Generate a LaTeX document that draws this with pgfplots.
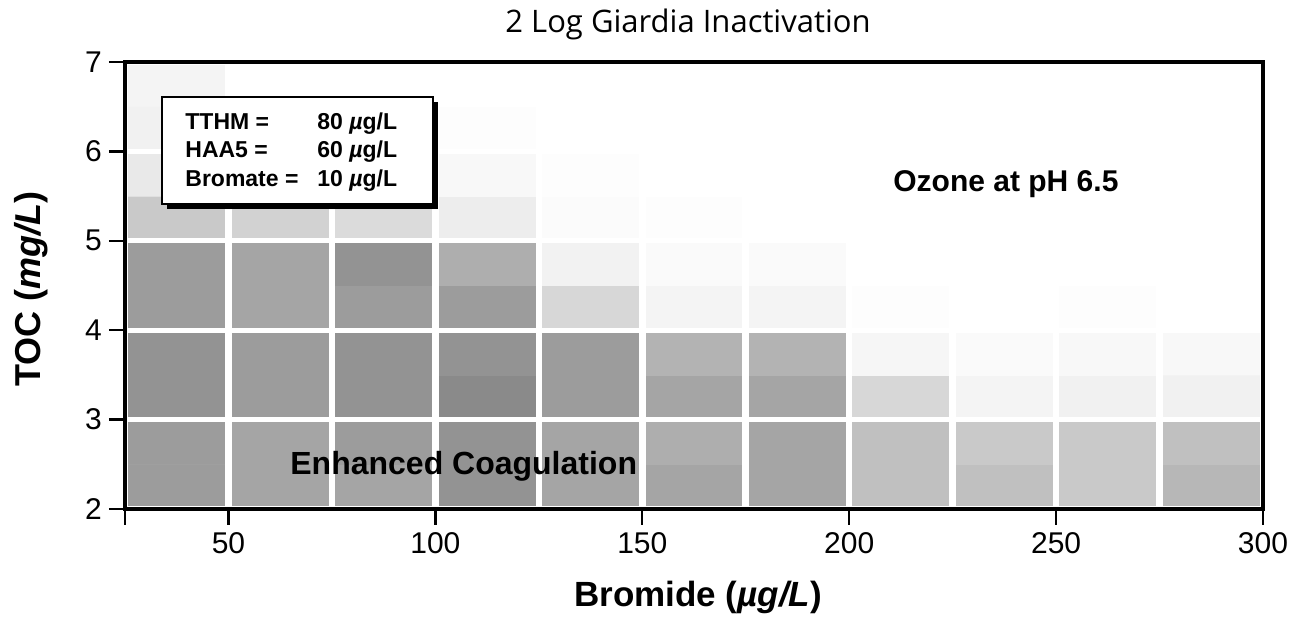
\documentclass[border=0pt]{standalone}
\usepackage{pgfplots}
\pgfplotsset{compat=1.18}
\usepackage{fontspec}
\setmainfont{Liberation Sans}
\newfontfamily\titlefont{Open Sans}
\begin{document}
\begin{tikzpicture}
\useasboundingbox (0,0) rectangle (648.5pt,313.5pt);
\begin{axis}[
  at={(62.5pt,59pt)}, anchor=south west,
  width=569pt, height=223.5pt, scale only axis,
  xmin=25, xmax=300, ymin=2, ymax=7,
  xtick={25,50,100,150,200,250,300},
  xticklabels={,50,100,150,200,250,300},
  minor xtick={75,125,175,225,275},
  ytick={2,3,4,5,6,7},
  xtick pos=bottom, ytick pos=left,
  tick align=outside,
  major tick length=8pt, minor tick length=0pt,
  tick style={black, line width=1.2pt},
  axis line style={line width=2.2pt},
  grid=both,
  major x grid style={white, line width=3.3pt},
  minor x grid style={white, line width=3.3pt},
  major y grid style={white, line width=2.5pt},
  axis on top,
  ticklabel style={font=\fontsize{15}{18}\selectfont},
  /pgf/number format/assume math mode=true,
  colormap={scan}{color=(white) color=(black!70)},
  point meta min=0, point meta max=1,
]
\addplot[matrix plot*, mesh/cols=11, point meta=explicit, shader=flat corner] table[meta=c] {
x y c
37.5 2.25 0.55
62.5 2.25 0.50
87.5 2.25 0.50
112.5 2.25 0.60
137.5 2.25 0.50
162.5 2.25 0.50
187.5 2.25 0.50
212.5 2.25 0.35
237.5 2.25 0.35
262.5 2.25 0.30
287.5 2.25 0.40
37.5 2.75 0.55
62.5 2.75 0.50
87.5 2.75 0.55
112.5 2.75 0.60
137.5 2.75 0.50
162.5 2.75 0.45
187.5 2.75 0.50
212.5 2.75 0.35
237.5 2.75 0.30
262.5 2.75 0.30
287.5 2.75 0.35
37.5 3.25 0.60
62.5 3.25 0.55
87.5 3.25 0.60
112.5 3.25 0.65
137.5 3.25 0.55
162.5 3.25 0.50
187.5 3.25 0.50
212.5 3.25 0.22
237.5 3.25 0.06
262.5 3.25 0.08
287.5 3.25 0.08
37.5 3.75 0.60
62.5 3.75 0.55
87.5 3.75 0.60
112.5 3.75 0.60
137.5 3.75 0.55
162.5 3.75 0.42
187.5 3.75 0.42
212.5 3.75 0.05
237.5 3.75 0.03
262.5 3.75 0.04
287.5 3.75 0.04
37.5 4.25 0.55
62.5 4.25 0.50
87.5 4.25 0.55
112.5 4.25 0.55
137.5 4.25 0.22
162.5 4.25 0.06
187.5 4.25 0.06
212.5 4.25 0.01
237.5 4.25 0.00
262.5 4.25 0.01
287.5 4.25 0.00
37.5 4.75 0.55
62.5 4.75 0.50
87.5 4.75 0.60
112.5 4.75 0.45
137.5 4.75 0.07
162.5 4.75 0.03
187.5 4.75 0.03
212.5 4.75 0.00
237.5 4.75 0.00
262.5 4.75 0.00
287.5 4.75 0.00
37.5 5.25 0.30
62.5 5.25 0.25
87.5 5.25 0.20
112.5 5.25 0.10
137.5 5.25 0.02
162.5 5.25 0.01
187.5 5.25 0.00
212.5 5.25 0.00
237.5 5.25 0.00
262.5 5.25 0.00
287.5 5.25 0.00
37.5 5.75 0.12
62.5 5.75 0.04
87.5 5.75 0.04
112.5 5.75 0.04
137.5 5.75 0.01
162.5 5.75 0.00
187.5 5.75 0.00
212.5 5.75 0.00
237.5 5.75 0.00
262.5 5.75 0.00
287.5 5.75 0.00
37.5 6.25 0.08
62.5 6.25 0.01
87.5 6.25 0.00
112.5 6.25 0.01
137.5 6.25 0.00
162.5 6.25 0.00
187.5 6.25 0.00
212.5 6.25 0.00
237.5 6.25 0.00
262.5 6.25 0.00
287.5 6.25 0.00
37.5 6.75 0.06
62.5 6.75 0.00
87.5 6.75 0.00
112.5 6.75 0.00
137.5 6.75 0.00
162.5 6.75 0.00
187.5 6.75 0.00
212.5 6.75 0.00
237.5 6.75 0.00
262.5 6.75 0.00
287.5 6.75 0.00
};
\end{axis}
% info box with shadow
\fill[black] (83.5pt,209pt) rectangle (219pt,262.5pt);
\draw[fill=white, line width=0.8pt] (81pt,211.5pt) rectangle (216.5pt,265pt);
\begin{scope}[every node/.style={inner sep=0pt, anchor=base west, font=\fontsize{11.5}{13}\selectfont\bfseries}]
\node at (92.5pt,248.5pt) {TTHM =};
\node at (158.5pt,248.5pt) {80 {\itshape µ}g/L};
\node at (92.5pt,234.5pt) {HAA5 =};
\node at (158.5pt,234.5pt) {60 {\itshape µ}g/L};
\node at (92.5pt,220pt) {Bromate =};
\node at (158.5pt,220pt) {10 {\itshape µ}g/L};
\end{scope}
\node[inner sep=0pt, anchor=base west, font=\fontsize{15}{18}\selectfont\bfseries] at (446.5pt,217.5pt) {Ozone at pH 6.5};
\node[inner sep=0pt, anchor=base west, font=\fontsize{16}{19}\selectfont\bfseries] at (145pt,76pt) {Enhanced Coagulation};
% title and axis labels
\node[inner sep=0pt, anchor=base, font=\fontsize{15.5}{18}\selectfont\titlefont] at (344pt,297pt) {2 Log Giardia Inactivation};
\node[inner sep=0pt, anchor=base, font=\fontsize{17.5}{21}\selectfont\bfseries] at (349pt,10pt) {Bromide ({\itshape µg/L})};
\node[inner sep=0pt, anchor=base, rotate=90, font=\fontsize{18}{21}\selectfont\bfseries] at (20pt,169pt) {TOC ({\itshape mg/L})};
\end{tikzpicture}
\end{document}
